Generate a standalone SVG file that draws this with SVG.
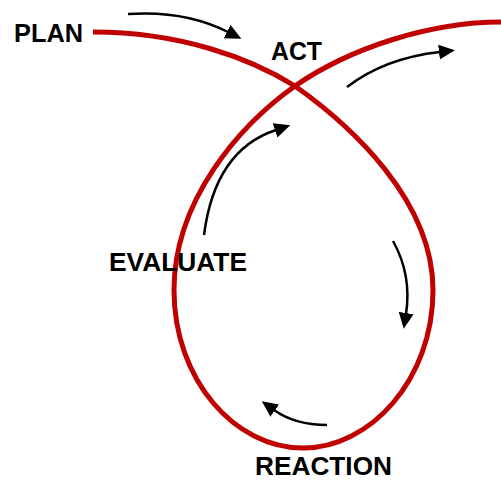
<svg xmlns="http://www.w3.org/2000/svg" width="501" height="481" viewBox="0 0 501 481">
<style>
.lbl{font-family:"Liberation Sans",Arial,sans-serif;font-weight:bold;font-size:26px;fill:#000}
.loop{fill:none;stroke:#C00000;stroke-width:5}
.arr{fill:none;stroke:#000;stroke-width:2.5;marker-end:url(#ah)}
</style>
<defs>
<marker id="ah" markerUnits="userSpaceOnUse" markerWidth="17" markerHeight="16" refX="1" refY="8" orient="auto" viewBox="0 0 17 16">
<path d="M0,0.5 L16,8 L0,15.5 z" fill="#000"/>
</marker>
</defs>
<g id="loop">
<path class="loop" d="M93,32 C180,32 250,58 295,86 C350,125 433,200 433,290 C433,380 370,448 303,448 C235,448 174,380 174,290 C174,200 240,125 295,86 C350,48 430,22 501,22"/>
</g>
<g id="connectors">
<path class="arr" d="M128,14 Q185,10 228,32"/>
<path class="arr" d="M347,87 Q385,58 440,52"/>
<path class="arr" d="M204,235 Q215,150 276,130"/>
<path class="arr" d="M393,241 Q412,275 406,314"/>
<path class="arr" d="M327,425 Q295,425 274,410"/>
</g>
<g id="plan"><text class="lbl" x="14" y="42" textLength="69" lengthAdjust="spacingAndGlyphs">PLAN</text></g>
<g id="act"><text class="lbl" x="271" y="60" textLength="51" lengthAdjust="spacingAndGlyphs">ACT</text></g>
<g id="evaluate"><text class="lbl" x="109" y="271" textLength="138" lengthAdjust="spacingAndGlyphs">EVALUATE</text></g>
<g id="reaction"><text class="lbl" x="255" y="475" font-size="25" textLength="137" lengthAdjust="spacingAndGlyphs">REACTION</text></g>
</svg>
